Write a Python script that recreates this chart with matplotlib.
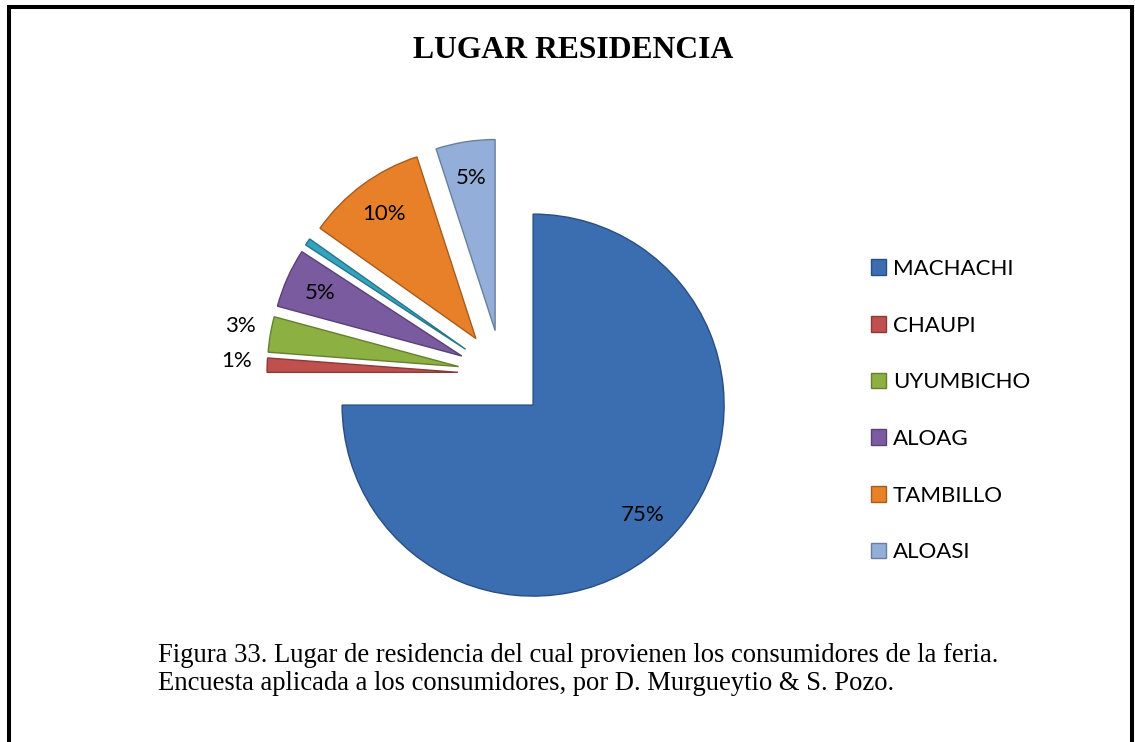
import matplotlib
matplotlib.use("Agg")
import matplotlib.pyplot as plt
import matplotlib.patches as mpatches
import matplotlib.colors as mc
import numpy as np

# ---- data ----
categories = ["MACHACHI", "CHAUPI", "UYUMBICHO", "ALOAG", "OTRO", "TAMBILLO", "ALOASI"]
values = [75, 1.2, 3, 5, 0.6, 10.2, 5]
colors = ["#3B6DB1", "#C0504D", "#8DB043", "#7A5B9F", "#34A3C0", "#E8802A", "#93AFD9"]
legend_names = ["MACHACHI", "CHAUPI", "UYUMBICHO", "ALOAG", "TAMBILLO", "ALOASI"]
title = "LUGAR RESIDENCIA"
caption_lines = ["Figura 33. Lugar de residencia del cual provienen los consumidores de la feria.",
                 "Encuesta aplicada a los consumidores, por D. Murgueytio & S. Pozo."]

W, H = 1135, 742
fig = plt.figure(figsize=(W / 100, H / 100), dpi=100)
ax = fig.add_axes([0, 0, 1, 1])

cx, cy = 502, H - 374
R = 191
expl = [44] * len(values)
total = sum(values)

def fmt(p):
    return f"{p:.0f}%" if p >= 0.8 else ""

wedges, texts, autotexts = ax.pie(
    values, colors=colors, startangle=90, counterclock=False,
    center=(cx, cy), radius=R, explode=expl, autopct=fmt,
    pctdistance=0.81, frame=True,
    wedgeprops=dict(linewidth=1.0),
    textprops=dict(fontsize=16, family="Lato", color="black"))
ax.set_xlim(0, W)
ax.set_ylim(0, H)
ax.set_aspect("equal")
ax.set_axis_off()

for w, c in zip(wedges, colors):
    rgb = np.array(mc.to_rgb(c))
    w.set_edgecolor(tuple(rgb * 0.72))

# move labels of the thin slices outside
for w, t, v in zip(wedges, autotexts, values):
    frac = v / total
    if frac < 0.04 and t.get_text():
        th = np.deg2rad(0.5 * (w.theta1 + w.theta2))
        x0, y0 = w.center
        t.set_position((x0 + 1.16 * R * np.cos(th), y0 + 1.16 * R * np.sin(th) + 3))

# legend (excluding tiny unnamed slice)
handles = [wedges[categories.index(n)] for n in legend_names]
proxies = [mpatches.Patch(facecolor=h.get_facecolor(), edgecolor=h.get_edgecolor(), linewidth=1)
           for h in handles]
fig.legend(proxies, legend_names, loc="upper left",
           bbox_to_anchor=(862 / W, 1 - 250 / H), frameon=False,
           prop=dict(family="Lato", size=16), handlelength=0.7, handleheight=0.7,
           handletextpad=0.3, labelspacing=1.65, borderaxespad=0)

# title
fig.text(573 / W, 1 - 50 / H, title, ha="center", va="center",
         family="Liberation Serif", fontweight="bold", fontsize=22.8)

# caption
for i, line in enumerate(caption_lines):
    fig.text(158 / W, 1 - (662 + 28 * i) / H, line, ha="left", va="baseline",
             family="Liberation Serif", fontsize=19.2)

# border (left, top, right)
ax.plot([9, 9, W - 3, W - 3], [-10, H - 7, H - 7, -10], color="black", lw=2.9,
        solid_joinstyle="miter", clip_on=False)

fig.savefig("out.png", dpi=100)
